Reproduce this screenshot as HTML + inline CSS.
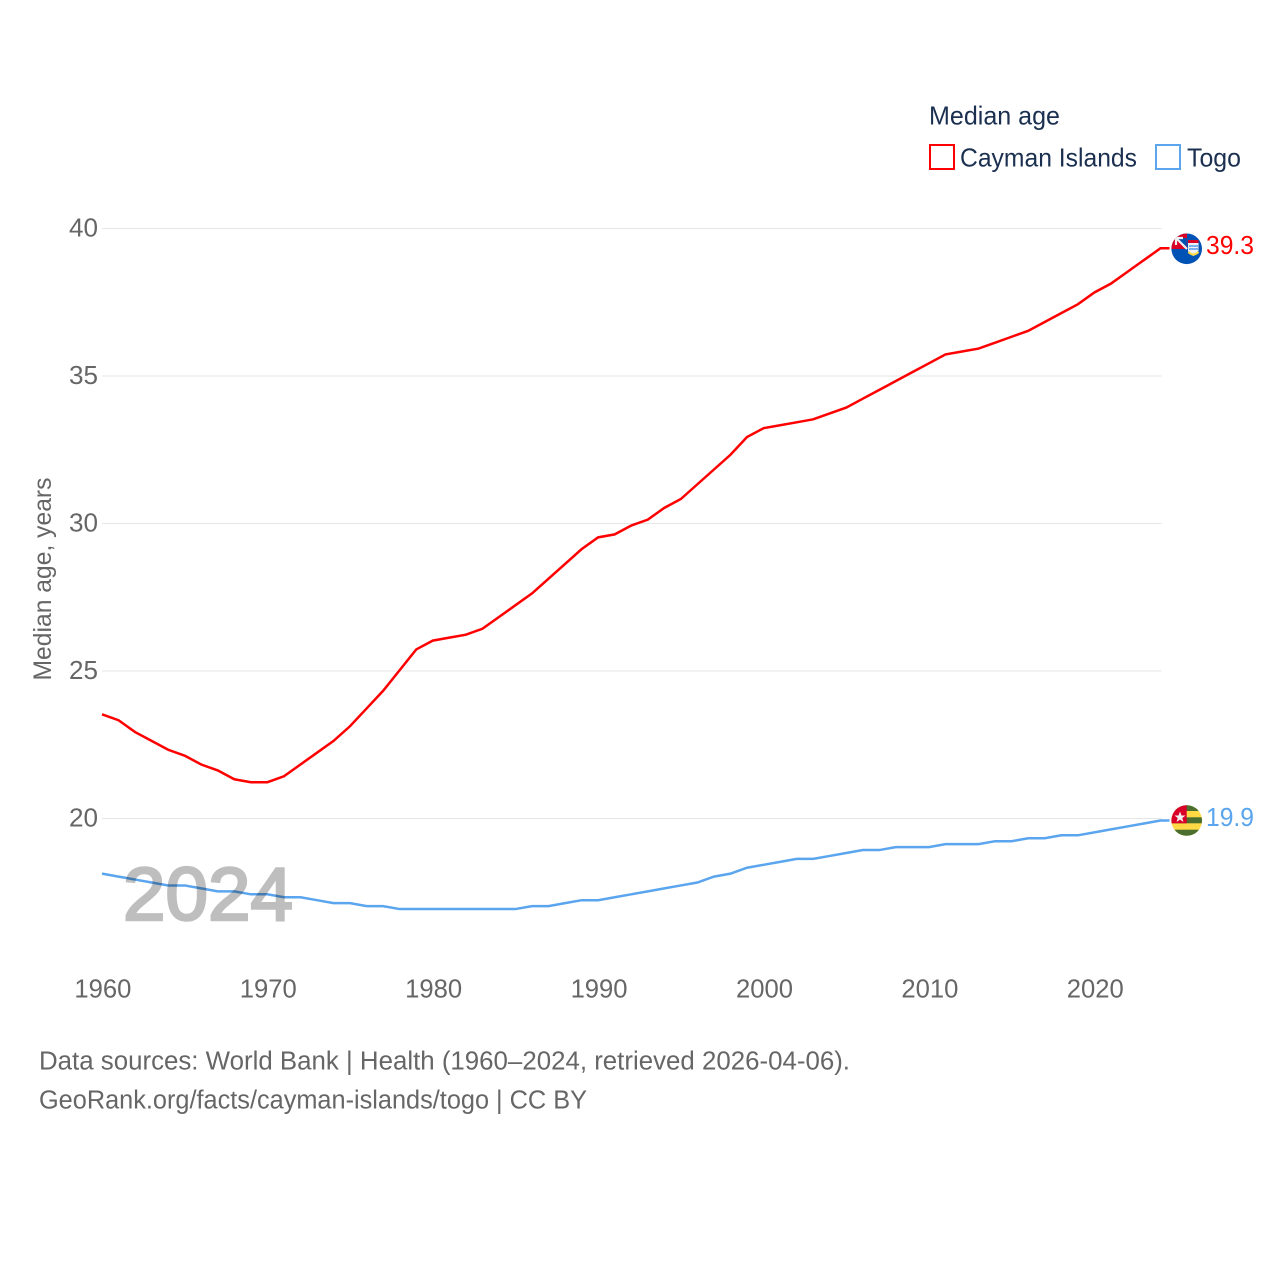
<!DOCTYPE html>
<html lang="en">
<head>
<meta charset="utf-8">
<title>Median age: Cayman Islands and Togo</title>
<style>
html,body{margin:0;padding:0;background:#fff;width:1280px;height:1280px;overflow:hidden}
svg{display:block}
text{font-family:"Liberation Sans",sans-serif}
</style>
</head>
<body>
<svg id="chart" xmlns="http://www.w3.org/2000/svg" width="1280" height="1280" viewBox="0 0 1280 1280">
  <rect width="1280" height="1280" fill="#fff"/>
  <g id="grid"></g>
  <g id="yticks"></g>
  <g id="xticks"></g>
  <text transform="translate(51,579) rotate(-90)" text-anchor="middle" font-size="25" fill="#666" textLength="203" lengthAdjust="spacingAndGlyphs">Median age, years</text>
  <g id="series"></g>
  <text x="123" y="920" font-size="75" fill="#000" stroke="#000" stroke-width="2.600" opacity="0.25" textLength="170" lengthAdjust="spacingAndGlyphs">2024</text>

  <defs>
    <clipPath id="cayman-clip"><circle cx="1186.700" cy="248.800" r="15.300"/></clipPath>
    <clipPath id="togo-clip"><circle cx="1186.700" cy="820.500" r="15.300"/></clipPath>
  </defs>
  <g clip-path="url(#cayman-clip)">
    <rect x="1170" y="232" width="34" height="34" fill="#0052b4"/>
    <rect x="1170" y="232" width="17" height="17" fill="#d80027"/>
    <path d="M1176 238H1186.700V249Z" fill="#0052b4"/>
    <path d="M1176 238L1187 249M1176 238H1183M1176 238V245" stroke="#f0f0f0" stroke-width="2.200" fill="none"/>
    <path d="M1188 241H1198.500V250Q1198.500 254 1193.300 256Q1188 254 1188 250Z" fill="#f0f0f0"/>
    <rect x="1188" y="240" width="10.500" height="3" fill="#d80027"/>
    <path d="M1189 246H1198M1189 249H1198" stroke="#338af3" stroke-width="1.300"/>
    <path d="M1188.500 252Q1193.300 257 1198.500 252" stroke="#ffda44" stroke-width="2.200" fill="none"/>
  </g>
  <g clip-path="url(#togo-clip)">
    <rect x="1170" y="804" width="34" height="34" fill="#ffda44"/>
    <rect x="1170" y="804" width="34" height="7" fill="#496e2d"/>
    <rect x="1170" y="817.300" width="34" height="6" fill="#496e2d"/>
    <rect x="1170" y="829.700" width="34" height="8" fill="#496e2d"/>
    <rect x="1170" y="804" width="16.700" height="19.300" fill="#d80027"/>
    <path d="M1180 811.500L1181.500 815.500H1185.500L1182.300 818L1183.400 822L1180 819.600L1176.600 822L1177.700 818L1174.500 815.500H1178.500Z" fill="#f0f0f0"/>
  </g>
  <text x="1206" y="254" font-size="25.500" fill="#f00" textLength="48" lengthAdjust="spacingAndGlyphs">39.3</text>
  <text x="1206" y="826" font-size="25.500" fill="#5aa5ee" textLength="48" lengthAdjust="spacingAndGlyphs">19.9</text>

  <g>
    <text x="929" y="124.500" font-size="26" fill="#1b3050" textLength="131" lengthAdjust="spacingAndGlyphs">Median age</text>
    <g>
      <rect x="930" y="145" width="24" height="24" fill="none" stroke="#f00" stroke-width="2"/>
      <text x="960" y="166.500" font-size="26" fill="#1b3050" textLength="177" lengthAdjust="spacingAndGlyphs">Cayman Islands</text>
    </g>
    <g>
      <rect x="1156" y="145" width="24" height="24" fill="none" stroke="#5aa5ee" stroke-width="2"/>
      <text x="1187" y="166.500" font-size="26" fill="#1b3050" textLength="54" lengthAdjust="spacingAndGlyphs">Togo</text>
    </g>
  </g>

  <text x="39" y="1069.500" font-size="25.500" fill="#666" textLength="811" lengthAdjust="spacingAndGlyphs">Data sources: World Bank | Health (1960–2024, retrieved 2026-04-06).</text>
  <text x="39" y="1108.500" font-size="25.500" fill="#666" textLength="548" lengthAdjust="spacingAndGlyphs">GeoRank.org/facts/cayman-islands/togo | CC BY</text>
</svg>
<script>
const startYear = 1960;
const caymanValues = [23.5,23.3,22.9,22.6,22.3,22.1,21.8,21.6,21.3,21.2,21.2,21.4,21.8,22.2,22.6,23.1,23.7,24.3,25.0,25.7,26.0,26.1,26.2,26.4,26.8,27.2,27.6,28.1,28.6,29.1,29.5,29.6,29.9,30.1,30.5,30.8,31.3,31.8,32.3,32.9,33.2,33.3,33.4,33.5,33.7,33.9,34.2,34.5,34.8,35.1,35.4,35.7,35.8,35.9,36.1,36.3,36.5,36.8,37.1,37.4,37.8,38.1,38.5,38.9,39.3];
const togoValues = [18.1,18.0,17.9,17.8,17.7,17.7,17.6,17.5,17.5,17.4,17.4,17.3,17.3,17.2,17.1,17.1,17.0,17.0,16.9,16.9,16.9,16.9,16.9,16.9,16.9,16.9,17.0,17.0,17.1,17.2,17.2,17.3,17.4,17.5,17.6,17.7,17.8,18.0,18.1,18.3,18.4,18.5,18.6,18.6,18.7,18.8,18.9,18.9,19.0,19.0,19.0,19.1,19.1,19.1,19.2,19.2,19.3,19.3,19.4,19.4,19.5,19.6,19.7,19.8,19.9];
const yTickValues = [20,25,30,35,40];
const xTickYears = [1960,1970,1980,1990,2000,2010,2020];

const NS = 'http://www.w3.org/2000/svg';
const xScale = function (year) { return 102 + (year - 1960) * (1160.500 - 102) / 64; };
const yScale = function (value) { return 818.5 - (value - 20) * 29.5; };
const lineY = function (value) { return yScale(value) - 0.9; };

const grid = document.getElementById('grid');
const yticks = document.getElementById('yticks');
const xticks = document.getElementById('xticks');
const series = document.getElementById('series');

yTickValues.forEach(function (v) {
  const line = document.createElementNS(NS, 'line');
  
  
  line.setAttribute('x1', 102);
  line.setAttribute('x2', 1161.5);
  line.setAttribute('y1', yScale(v));
  line.setAttribute('y2', yScale(v));
  line.setAttribute('stroke', '#e6e6e6');
  line.setAttribute('stroke-width', '1');
  grid.appendChild(line);

  const label = document.createElementNS(NS, 'text');
  
  
  label.setAttribute('x', 98);
  label.setAttribute('y', yScale(v) + 8);
  label.setAttribute('text-anchor', 'end');
  label.setAttribute('font-size', '26');
  label.setAttribute('fill', '#666');
  label.setAttribute('textLength', '29');
  label.setAttribute('lengthAdjust', 'spacingAndGlyphs');
  label.textContent = v;
  yticks.appendChild(label);
});

xTickYears.forEach(function (year) {
  const label = document.createElementNS(NS, 'text');
  
  
  label.setAttribute('x', xScale(year) + 0.9);
  label.setAttribute('y', 997.5);
  label.setAttribute('text-anchor', 'middle');
  label.setAttribute('font-size', '26');
  label.setAttribute('fill', '#666');
  label.setAttribute('textLength', '57');
  label.setAttribute('lengthAdjust', 'spacingAndGlyphs');
  label.textContent = year;
  xticks.appendChild(label);
});

function linePoints(values) {
  const pts = values.map(function (v, i) {
    return xScale(startYear + i).toFixed(2) + ',' + lineY(v).toFixed(2);
  });
  const last = values[values.length - 1];
  pts.push('1169.500,' + lineY(last).toFixed(2));
  return pts.join(' ');
}

const caymanLine = document.createElementNS(NS, 'polyline');


caymanLine.setAttribute('points', linePoints(caymanValues));
caymanLine.setAttribute('fill', 'none');
caymanLine.setAttribute('stroke', '#f00');
caymanLine.setAttribute('stroke-width', '2.5');
series.appendChild(caymanLine);

const togoLine = document.createElementNS(NS, 'polyline');


togoLine.setAttribute('points', linePoints(togoValues));
togoLine.setAttribute('fill', 'none');
togoLine.setAttribute('stroke', '#5aa5ee');
togoLine.setAttribute('stroke-width', '2.5');
series.appendChild(togoLine);
</script>
</body>
</html>
